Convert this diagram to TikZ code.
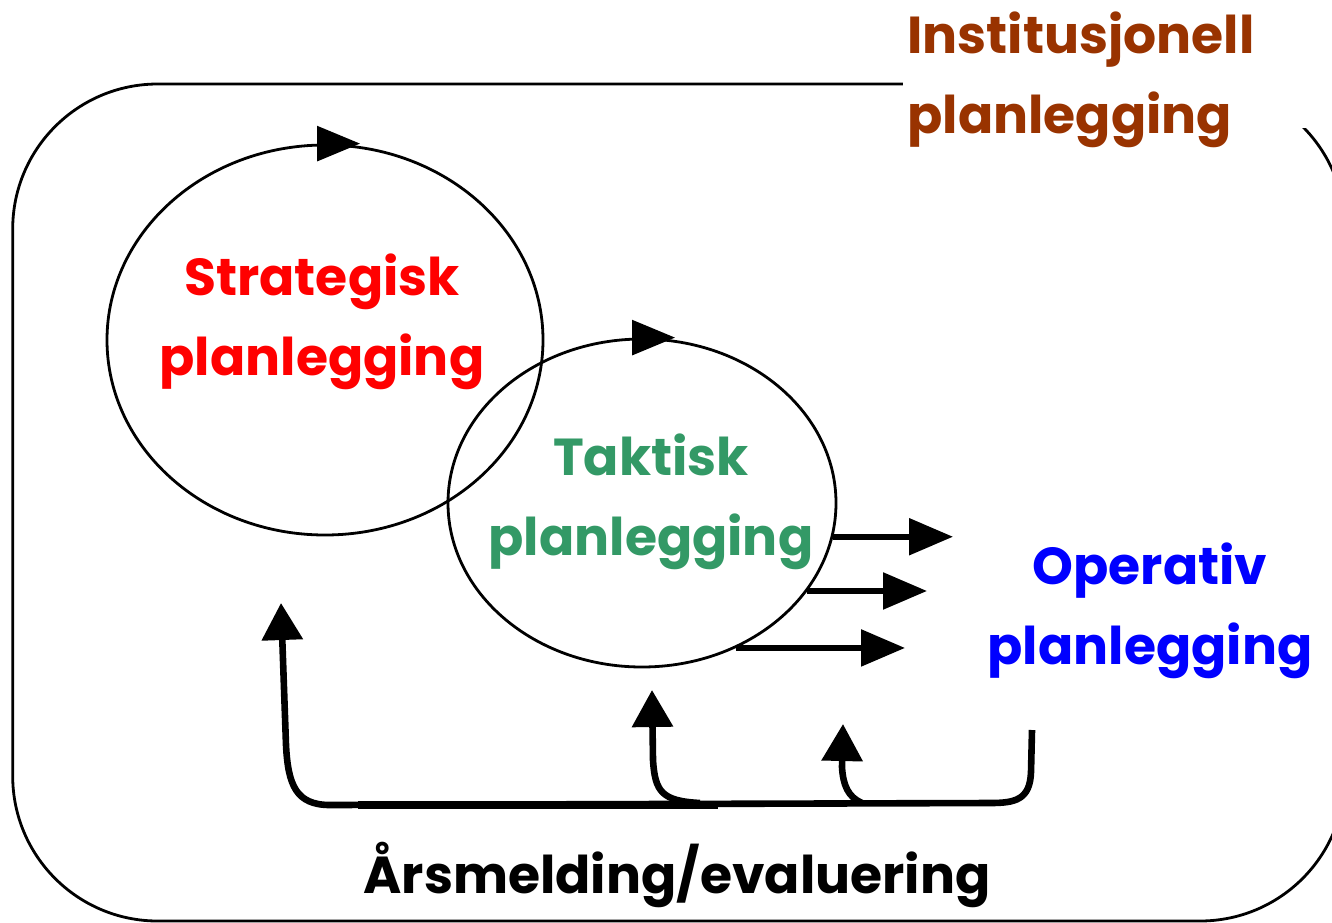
\documentclass[tikz,border=0pt]{standalone}
\usepackage{fontspec}
\setmainfont{Poppins}
\usetikzlibrary{arrows.meta,shapes.geometric}
\definecolor{stratc}{RGB}{255,0,0}
\definecolor{taktc}{RGB}{51,153,102}
\definecolor{operc}{RGB}{0,0,255}
\definecolor{instc}{RGB}{153,51,0}
\begin{document}
\begin{tikzpicture}[x=0.5pt,y=-0.5pt,
  lbl/.style={font=\fontsize{26}{40}\selectfont\bfseries, align=center, inner sep=0pt},
  ring/.style={ellipse, draw, line width=1.4pt, inner sep=0pt},
  tophead/.style={line width=1.4pt, -{Triangle[length=21.5pt,width=17.5pt]}},
  outarr/.style={line width=2.8pt, -{Triangle[length=22pt,width=18pt]}},
  fbhead/.style={line width=3.3pt, -{Triangle[length=18.5pt,width=20pt]}}]
\useasboundingbox (0,0) rectangle (1332,922);
\clip (0,0) rectangle (1332,922);
\fill[white] (0,0) rectangle (1332,922);
% outer frame
\draw[line width=1.4pt, rounded corners=72.5pt] (12.7,84) rectangle (1345,921);
% ellipses
\node[ring, minimum width=218pt, minimum height=195pt] (s) at (325,340) {};
\node[ring, minimum width=194pt, minimum height=164pt] (t) at (642,503) {};
\draw[tophead] ([xshift=-4pt]s.north) -- ([xshift=17.5pt]s.north);
\draw[tophead] ([xshift=-5pt]t.north) -- ([xshift=16.5pt]t.north);
% arrows to operativ
\coordinate (o1) at (953,537);
\coordinate (o2) at (927,592);
\coordinate (o3) at (905,649);
\draw[outarr] (t.-10) -- (t.-10 -| o1);
\draw[outarr] (t.-28.6) -- (t.-28.6 -| o2);
\draw[outarr] (t.-57) -- (t.-57 -| o3);
% feedback
\coordinate (fstart) at (1032,730);
\coordinate (tipS) at (281,603);
\coordinate (tipT) at (652,690);
\coordinate (tipO) at (843,724);
\draw[fbhead] (fstart) -- (1031,772) .. controls (1030,800) and (1015,803) .. (990,803)
  -- (330,805) .. controls (296,805) and (288,785) .. (286,745) -- (tipS);
\draw[line width=4.2pt] (358,805) -- (718,805);
\draw[fbhead] (700,803) .. controls (662,801) and (655,792) .. (653,760) -- (tipT);
\draw[fbhead] (862,803) .. controls (848,797) and (843,785) .. (842,767) -- (tipO);
% labels
\node[lbl, text=stratc] (stext) at (322,322) {Strategisk\\planlegging};
\node[lbl, text=taktc] (ttext) at (651,502) {Taktisk\\planlegging};
\node[lbl, text=operc] (otext) at (1150,611) {Operativ\\planlegging};
\fill[white] (903,0) rectangle (1318,128);
\node[lbl, text=instc, align=left, anchor=west] (itext) at (907,80) {Institusjonell\\planlegging};
\node[lbl] (atext) at (677,875) {Årsmelding/evaluering};
\end{tikzpicture}
\end{document}
